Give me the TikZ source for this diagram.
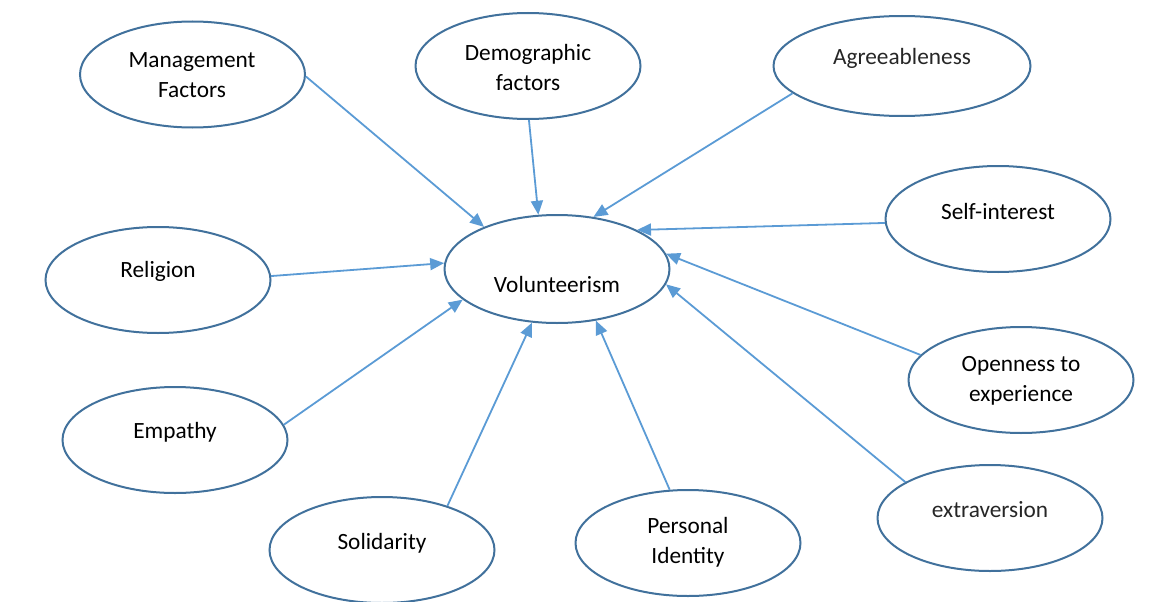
\documentclass[tikz,border=0pt]{standalone}
\usepackage{fontspec}
\setmainfont{Carlito}
\usetikzlibrary{shapes.geometric,arrows.meta}
\definecolor{ovalblue}{HTML}{41719C}
\definecolor{arrowblue}{HTML}{5B9BD5}
\tikzset{
  oval/.style={ellipse, draw=ovalblue, line width=2pt, inner sep=0pt,
    minimum width=225pt, minimum height=106pt},
  lbl/.style={align=center, font=\fontsize{23.3}{30}\selectfont, text=black},
  conn/.style={draw=arrowblue, line width=1.8pt,
    -{Triangle[length=14pt,width=12pt]}}
}
\begin{document}
\begin{tikzpicture}[x=1pt,y=-1pt]
\useasboundingbox (0,0) rectangle (1164,602);
% ellipses
\node[oval] (mgmt) at (192.5,74.5) {};
\node[oval] (demo) at (528,66) {};
\node[oval, minimum width=257pt, minimum height=100pt] (agree) at (902,66) {};
\node[oval] (self) at (998,219) {};
\node[oval, minimum height=108pt] (vol) at (557,269) {};
\node[oval] (rel) at (158,280) {};
\node[oval] (emp) at (175,440) {};
\node[oval] (sol) at (382,550) {};
\node[oval] (pers) at (688,543) {};
\node[oval] (open) at (1021,380) {};
\node[oval] (extra) at (990,518) {};
% labels
\node[lbl] (mgmtt) at (192,75) {Management\\Factors};
\node[lbl] (demot) at (528,67) {Demographic\\factors};
\node[lbl, text=black!85] (agreet) at (902,58) {Agreeableness};
\node[lbl] (selft) at (998,211) {Self-interest};
\node[lbl] (volt) at (557,284) {Volunteerism};
\node[lbl] (relt) at (158,271) {Religion};
\node[lbl] (empt) at (175,432) {Empathy};
\node[lbl] (solt) at (382,543) {Solidarity};
\node[lbl] (perst) at (688,542) {Personal\\Identity};
\node[lbl] (opent) at (1021,381) {Openness to\\experience};
\node[lbl, text=black!85] (extrat) at (990,510) {extraversion};
% connectors
\draw[conn] (mgmt.-1) -- (vol.150);
\draw[conn] (demo.-89) -- (vol.109);
\draw[conn] (agree.-166) -- (vol.55);
\draw[conn] (self.182) -- (vol.26);
\draw[conn] (open.166) -- (vol.8);
\draw[conn] (extra.157) -- (vol.-8);
\draw[conn] (pers.109) -- (vol.-53);
\draw[conn] (sol.34) -- (vol.-115);
\draw[conn] (emp.8) -- (vol.-162);
\draw[conn] (rel.2) -- (vol.177);
\end{tikzpicture}
\end{document}
